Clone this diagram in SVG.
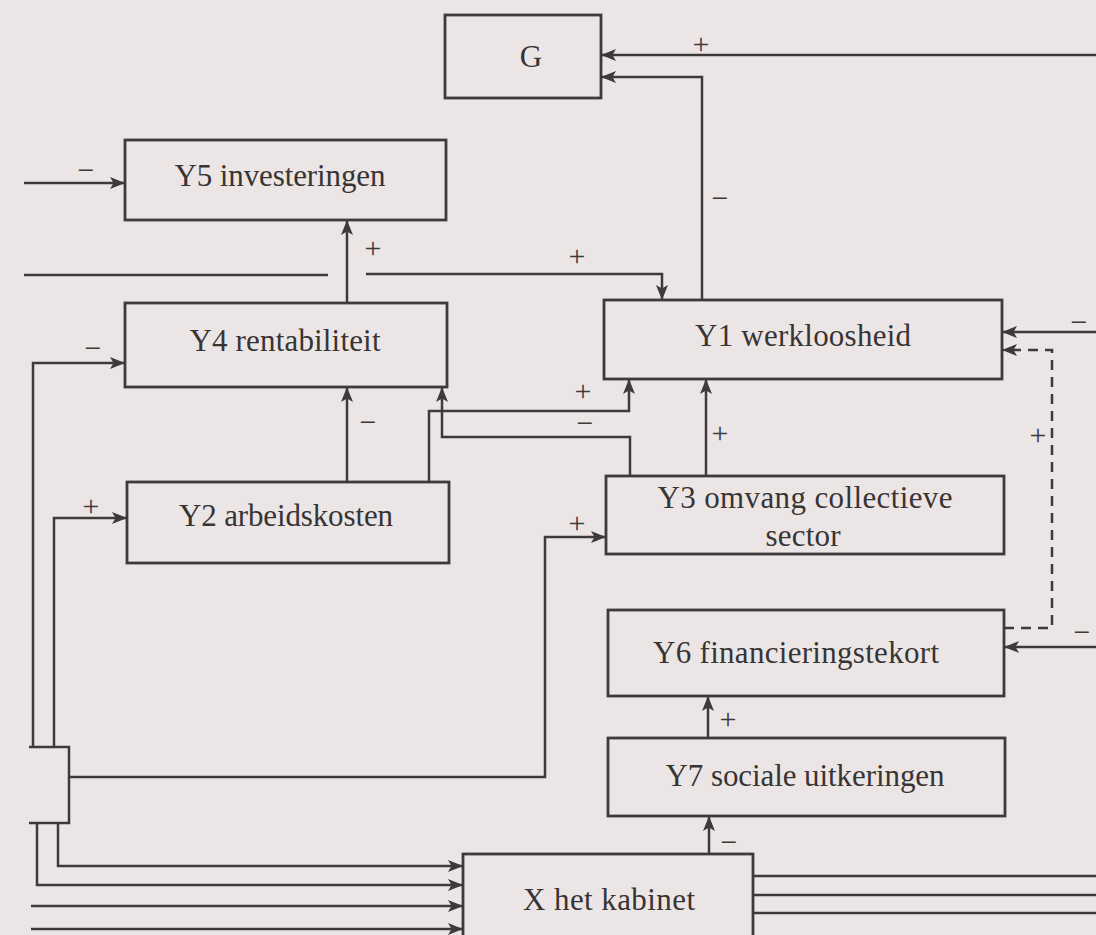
<svg xmlns="http://www.w3.org/2000/svg" width="1096" height="935" viewBox="0 0 1096 935">
<defs>
<marker id="arr" viewBox="0 0 15 12" refX="15" refY="6" markerWidth="15" markerHeight="12" markerUnits="userSpaceOnUse" orient="auto">
<path d="M0,0 L15,6 L0,12 L3.5,6 z" fill="#3e3a3a"/>
</marker>
<style>
.box{fill:none;stroke:#3e3a3a;stroke-width:2.8}
.lbl{font-family:"Liberation Serif","DejaVu Serif",serif;font-size:31px;fill:#383434;text-anchor:middle}
.sg{font-family:"Liberation Serif","DejaVu Serif",serif;font-size:30px;fill:#3e3a3a;text-anchor:middle}
.ln{fill:none;stroke:#3e3a3a;stroke-width:2.5}
.ar{marker-end:url(#arr)}
.dash{stroke-dasharray:10 7}
</style>
</defs>
<rect x="0" y="0" width="1096" height="935" fill="#ebe6e5"/>

<g id="connectors">
<path class="ln ar" d="M24,183 H125"/>
<path class="ln" d="M24,275 H328"/>
<path class="ln ar" d="M366,274 H662 V300"/>
<path class="ln ar" d="M347,303 V220"/>
<path class="ln ar" d="M1096,55 H601"/>
<path class="ln ar" d="M702,300 V77 H601"/>
<path class="ln ar" d="M33,747 V363 H125"/>
<path class="ln ar" d="M54,747 V518 H127"/>
<path class="ln" d="M29,747 H69 V823 H29"/>
<path class="ln ar" d="M69,777 H545 V537 H606"/>
<path class="ln ar" d="M58,823 V866 H463"/>
<path class="ln ar" d="M37,823 V885 H463"/>
<path class="ln ar" d="M31,906 H463"/>
<path class="ln ar" d="M31,929 H463"/>
<path class="ln ar" d="M347,482 V387"/>
<path class="ln ar" d="M630,476 V437 H442 V387"/>
<path class="ln ar" d="M429,482 V411 H629 V379"/>
<path class="ln ar" d="M706,476 V379"/>
<path class="ln ar" d="M1096,332 H1002"/>
<path class="ln dash ar" d="M1004,628 H1052 V350 H1002"/>
<path class="ln ar" d="M1096,647 H1004"/>
<path class="ln ar" d="M708,738 V696"/>
<path class="ln ar" d="M709,854 V816"/>
<path class="ln" d="M753,876 H1096 M753,895 H1096 M753,913 H1096"/>
<g id="signs">
<text class="sg" x="86" y="180">−</text>
<text class="sg" x="373" y="258">+</text>
<text class="sg" x="577" y="266">+</text>
<text class="sg" x="701" y="54">+</text>
<text class="sg" x="720" y="208">−</text>
<text class="sg" x="93" y="358">−</text>
<text class="sg" x="368" y="432">−</text>
<text class="sg" x="583" y="401">+</text>
<text class="sg" x="585" y="433">−</text>
<text class="sg" x="720" y="443">+</text>
<text class="sg" x="1079" y="332">−</text>
<text class="sg" x="1038" y="445">+</text>
<text class="sg" x="91" y="516">+</text>
<text class="sg" x="577" y="533">+</text>
<text class="sg" x="1082" y="642">−</text>
<text class="sg" x="728" y="729">+</text>
<text class="sg" x="729" y="852">−</text>
</g>
</g>

<g id="G"><rect class="box" x="445" y="15" width="156" height="83"/><text class="lbl" x="531" y="67">G</text></g>
<g id="Y5"><rect class="box" x="125" y="140" width="321" height="80"/><text class="lbl" x="280" y="186" textLength="211">Y5 investeringen</text></g>
<g id="Y4"><rect class="box" x="125" y="303" width="322" height="84"/><text class="lbl" x="285" y="351" textLength="191">Y4 rentabiliteit</text></g>
<g id="Y2"><rect class="box" x="127" y="482" width="322" height="81"/><text class="lbl" x="286" y="526" textLength="214">Y2 arbeidskosten</text></g>
<g id="Y1"><rect class="box" x="604" y="300" width="398" height="79"/><text class="lbl" x="803" y="346" textLength="216">Y1 werkloosheid</text></g>
<g id="Y3"><rect class="box" x="606" y="476" width="398" height="78"/><text class="lbl" x="805" y="508" textLength="295">Y3 omvang collectieve</text><text class="lbl" x="803" y="546" textLength="75">sector</text></g>
<g id="Y6"><rect class="box" x="608" y="610" width="396" height="86"/><text class="lbl" x="796" y="663" textLength="286">Y6 financieringstekort</text></g>
<g id="Y7"><rect class="box" x="608" y="738" width="397" height="78"/><text class="lbl" x="805" y="786" textLength="279">Y7 sociale uitkeringen</text></g>
<g id="X"><rect class="box" x="463" y="854" width="290" height="100"/><text class="lbl" x="609" y="910" textLength="172">X het kabinet</text></g>
</svg>
